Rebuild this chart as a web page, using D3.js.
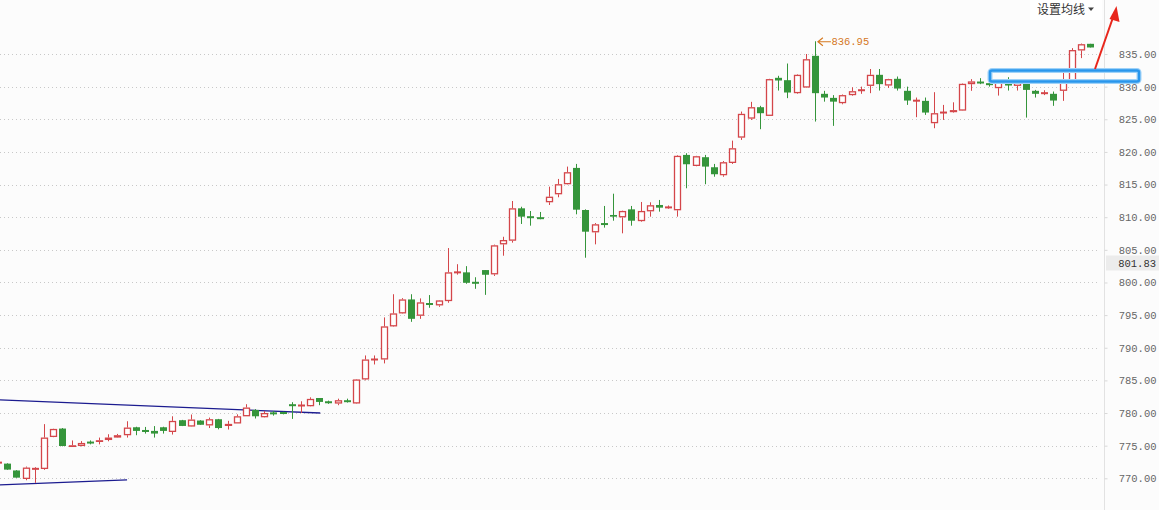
<!DOCTYPE html>
<html><head><meta charset="utf-8">
<script src="https://cdn.jsdelivr.net/npm/d3@7/dist/d3.min.js"></script>
<style>
html,body{margin:0;padding:0;background:#fcfcfc;}
svg{display:block;}
</style></head>
<body>
<svg id="chart" width="1159" height="510"></svg>
<script>
// candle index (category) — no date labels are shown on the chart
const categories = d3.range(-1, 119);
const openV = [772.3,772.25,771.2,769.9,771.4,771.43,776.33,777.62,774.8,774.95,775.5,775.57,775.87,776.24,776.6,777.82,777.3,777.26,777.82,777.1,778.9,777.93,778.85,778.1,779.05,778.02,778.4,779.5,780.47,779.35,780.0,780.05,781.25,781.1,781.04,782.3,781.7,781.45,781.96,781.46,785.14,788.15,788.2,793.27,795.26,797.4,794.9,796.75,796.49,797.15,801.5,801.55,800.0,801.9,801.24,805.84,806.4,811.36,810.05,809.9,812.29,813.51,815.05,817.55,811.1,807.68,809.0,810.34,809.98,811.2,809.4,810.9,811.87,811.45,811.06,819.54,817.85,819.19,817.65,816.43,818.31,822.19,825.1,826.85,825.52,831.35,830.99,829.0,829.86,834.72,828.9,828.28,827.47,828.7,829.4,830.12,831.81,830.17,831.2,829.36,827.8,827.82,824.4,825.98,826.09,826.33,830.38,830.68,830.43,829.77,830.63,830.12,830.7,829.36,828.95,828.9,829.36,830.84,835.54,836.56];
const highV = [772.7,772.3,771.25,771.8,771.7,778.3,777.6,777.7,775.8,775.7,775.8,776.24,776.75,776.8,778.74,777.9,777.87,778.0,777.9,779.5,778.95,779.77,778.9,779.3,779.1,778.8,779.8,781.35,780.6,780.3,780.3,780.2,781.66,781.8,782.4,782.3,781.9,782.2,782.2,785.2,788.82,788.82,794.65,798.2,797.6,798.2,797.56,798.07,797.3,805.27,802.8,802.5,800.8,801.9,805.8,807.0,812.48,811.6,810.95,810.8,814.68,815.86,817.75,818.16,811.2,809.1,811.72,813.6,811.0,811.72,812.33,812.28,812.64,811.8,819.5,819.8,819.4,819.54,818.16,818.6,821.73,826.18,827.67,827.06,831.2,831.66,833.54,831.9,835.0,836.95,829.36,828.7,828.8,829.9,830.0,832.7,832.7,831.2,831.55,830.0,828.33,828.33,829.15,827.2,827.6,830.5,831.15,831.3,831.04,830.9,831.45,831.0,830.8,829.5,829.45,829.25,832.7,835.9,836.6,836.56];
const lowV = [772.1,771.3,770.1,769.7,769.3,771.3,776.3,774.9,774.8,774.9,775.2,775.2,775.67,776.2,776.24,776.6,776.85,776.24,776.85,776.7,778.0,777.9,778.2,777.7,777.5,777.47,778.4,779.5,779.16,779.3,779.6,779.8,779.1,780.0,781.0,781.2,781.4,781.2,781.6,781.4,785.0,787.44,787.6,793.2,795.2,793.97,794.43,796.12,796.27,796.89,801.2,799.8,799.03,798.1,801.0,804.1,806.1,808.96,808.7,809.68,811.87,813.05,815.0,810.44,803.79,805.84,808.4,809.46,807.53,808.7,809.3,810.08,810.85,811.3,810.08,814.43,817.8,815.05,816.2,816.2,818.16,821.84,824.9,823.48,825.5,829.4,828.24,828.9,829.8,824.65,827.7,823.99,827.3,828.6,828.9,829.0,829.4,829.8,829.4,827.2,825.32,825.67,823.63,824.9,826.0,826.3,829.36,830.38,830.0,828.63,829.4,829.4,825.26,828.33,828.7,827.06,827.82,830.7,834.37,836.0];
const closeV = [772.5,771.33,770.1,771.64,771.5,776.24,777.56,774.95,775.06,775.41,775.45,775.83,776.24,776.6,777.77,777.26,777.2,776.85,777.26,778.79,778.02,779.0,778.2,779.05,777.7,778.33,779.5,780.84,779.5,780.0,779.9,779.95,781.15,781.2,782.16,781.7,781.6,781.96,781.66,785.14,788.2,788.25,793.27,795.26,797.4,794.43,796.95,796.65,797.25,801.55,801.6,799.95,799.9,801.18,805.69,806.5,811.36,810.08,809.95,809.8,813.14,815.05,816.89,811.15,807.78,808.91,808.9,810.08,810.95,809.46,810.95,811.83,811.46,811.55,819.4,818.11,819.34,817.75,816.58,818.42,820.56,825.83,826.85,825.93,831.15,830.94,829.1,831.81,834.2,829.0,828.33,827.7,828.7,829.3,829.5,831.81,830.38,831.15,829.71,827.87,827.9,826.03,825.93,826.08,826.4,830.43,830.8,830.58,830.33,830.63,830.17,830.8,829.5,828.9,829.05,827.87,831.15,835.6,836.5,836.0];
// price axis ticks
const tickValues = [770,775,780,785,790,795,800,805,810,815,820,825,830,835];
const tickLabels = ["770.00","775.00","780.00","785.00","790.00","795.00","800.00","805.00","810.00","815.00","820.00","825.00","830.00","835.00"];
// drawn trend lines: [candle index, price]
const trendUpper = [[-0.8, 782.0],[34.1, 780.0]];
const trendLower = [[-0.8, 769.0],[13.05, 769.75]];
// annotations
const lastPrice = 801.83;
const maxPrice = 836.95;
const maxIndex = 88;
const highlightBox = {i0: 107.5, i1: 123.6, p0: 832.2, p1: 830.4};
const menuLabel = "设置均线";

const W = 1159, H = 510;
const svg = d3.select("#chart");
const x = d3.scaleLinear().domain([0, 118]).range([7.3, 1090.2]);
const y = d3.scaleLinear().domain([770, 835]).range([478.3, 54]);
const RED = "#d4464a", GREEN = "#35953b";

svg.append("rect").attr("width", W).attr("height", H).attr("fill", "#fcfcfc");

// grid lines
svg.append("g").selectAll("line").data(tickValues).join("line")
  .attr("x1", 0).attr("x2", 1100)
  .attr("y1", d => Math.round(y(d)) + 0.5).attr("y2", d => Math.round(y(d)) + 0.5)
  .attr("stroke", "#c8c8c8").attr("stroke-dasharray", "1,3");

// right axis
const axis = d3.axisRight(y).tickValues(tickValues).tickFormat((d, i) => tickLabels[i]).tickSize(3).tickPadding(12);
const ag = svg.append("g").attr("transform", "translate(1104.5,0)").call(axis);
ag.select(".domain").attr("stroke", "#e2e2e2").attr("d", "M0,0V510");
ag.selectAll(".tick line").attr("stroke", "#d8d8d8");
ag.selectAll(".tick text").attr("x", 52).attr("text-anchor", "end")
  .attr("font-family", "Liberation Mono, monospace").attr("font-size", 10.5).attr("fill", "#666");

// last price label
const ly = y(lastPrice);
svg.append("rect").attr("x", 1106).attr("y", ly - 15).attr("width", 53).attr("height", 15).attr("fill", "#ececec");
svg.append("text").attr("x", 1156).attr("y", ly - 7.5).attr("dy", "0.35em").attr("text-anchor", "end")
  .attr("font-family", "Liberation Mono, monospace").attr("font-size", 10.5).attr("fill", "#333").text(lastPrice.toFixed(2));

// trend lines
const tl = d3.line().x(d => x(d[0])).y(d => y(d[1]));
[trendUpper, trendLower].forEach(t => {
  svg.append("path").attr("d", tl(t)).attr("fill", "none").attr("stroke", "#1c1c90").attr("stroke-width", 1.3);
});

// candles
const data = categories.map((c, i) => ({i: c, o: openV[i], h: highV[i], l: lowV[i], c: closeV[i]}));
const g = svg.append("g");
data.forEach(d => {
  const cx = Math.round(x(d.i)) + 0.5;
  const up = d.c >= d.o;
  const col = up ? RED : GREEN;
  const yT = y(Math.max(d.o, d.c)), yB = y(Math.min(d.o, d.c));
  const bh = yB - yT;
  if (bh < 1.6) {
    g.append("line").attr("x1", cx).attr("x2", cx).attr("y1", y(d.h)).attr("y2", y(d.l)).attr("stroke", col);
    g.append("rect").attr("x", cx - 3.5).attr("y", (yT + yB) / 2 - 1).attr("width", 7).attr("height", 2).attr("fill", col);
  } else if (up) {
    g.append("line").attr("x1", cx).attr("x2", cx).attr("y1", y(d.h)).attr("y2", yT).attr("stroke", col);
    g.append("line").attr("x1", cx).attr("x2", cx).attr("y1", yB).attr("y2", y(d.l)).attr("stroke", col);
    g.append("rect").attr("x", cx - 3).attr("y", yT + 0.6).attr("width", 6).attr("height", Math.max(bh - 1.2, 0.5))
      .attr("fill", "#fff").attr("stroke", col).attr("stroke-width", 1.3);
  } else {
    g.append("line").attr("x1", cx).attr("x2", cx).attr("y1", y(d.h)).attr("y2", y(d.l)).attr("stroke", col);
    g.append("rect").attr("x", cx - 3.5).attr("y", yT).attr("width", 7).attr("height", bh).attr("fill", col);
  }
});

// max price annotation
const mx = x(maxIndex), my = y(maxPrice);
const ORANGE = "#d5781f";
svg.append("path").attr("d", `M${mx + 3},${my + 0.5}H${mx + 16} M${mx + 8},${my - 3.5}L${mx + 3},${my + 0.5}L${mx + 8},${my + 4.5}`)
  .attr("fill", "none").attr("stroke", ORANGE).attr("stroke-width", 1.1);
svg.append("text").attr("x", mx + 16.5).attr("y", my).attr("dy", "0.35em")
  .attr("font-family", "Liberation Mono, monospace").attr("font-size", 10.5).attr("fill", ORANGE).text(maxPrice.toFixed(2));

// top-right menu
svg.append("rect").attr("x", 1030).attr("y", 0).attr("width", 72).attr("height", 20).attr("fill", "#fff");
svg.append("text").attr("x", 1037).attr("y", 14).attr("font-family", "Noto Sans CJK SC").attr("font-size", 12).attr("fill", "#333").text(menuLabel);
svg.append("path").attr("d", "M1088,7.5h6l-3,3.5z").attr("fill", "#444");

// highlight box (blue)
const bx0 = x(highlightBox.i0) - 7, bx1 = 1139;
const by0 = y(highlightBox.p0), by1 = y(highlightBox.p1);
svg.append("rect").attr("x", 990).attr("y", 70.5).attr("width", 149).attr("height", 11).attr("rx", 2)
  .attr("fill", "none").attr("stroke", "#9fd2f8").attr("stroke-width", 5);
svg.append("rect").attr("x", 990).attr("y", 70.5).attr("width", 149).attr("height", 11).attr("rx", 2)
  .attr("fill", "none").attr("stroke", "#2996ec").attr("stroke-width", 2.5);

// red arrow
svg.append("line").attr("x1", 1095).attr("y1", 69).attr("x2", 1113.5).attr("y2", 16)
  .attr("stroke", "#e8261c").attr("stroke-width", 2);
svg.append("path").attr("d", "M1116.5,6 L1119.5,22 L1109.5,19 Z").attr("fill", "#e8261c");
</script>
</body></html>
